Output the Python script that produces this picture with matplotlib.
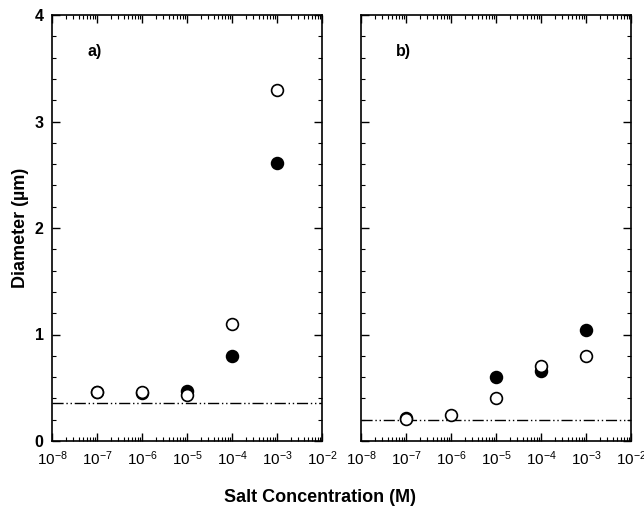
import numpy as np
import matplotlib.pyplot as plt
from matplotlib.ticker import LogLocator, MultipleLocator, NullFormatter

plt.rcParams['font.family'] = ['Liberation Sans', 'DejaVu Sans']
plt.rcParams['mathtext.fontset'] = 'custom'
plt.rcParams['mathtext.rm'] = 'Liberation Sans'
plt.rcParams['mathtext.default'] = 'regular'

# salt concentrations (M)
conc = [1e-7, 1e-6, 1e-5, 1e-4, 1e-3]

# panel a
a_open = [0.46, 0.46, 0.43, 1.10, 3.30]
a_filled = [0.46, 0.45, 0.47, 0.80, 2.61]
a_base = 0.36

# panel b
b_conc_filled = [1e-7, 1e-5, 1e-4, 1e-3]
b_filled = [0.22, 0.60, 0.66, 1.04]
b_open = [0.21, 0.24, 0.40, 0.70, 0.80]
b_base = 0.20

xtick_vals = [1e-8, 1e-7, 1e-6, 1e-5, 1e-4, 1e-3, 1e-2]
xtick_labels = ['$10^{-8}$', '$10^{-7}$', '$10^{-6}$', '$10^{-5}$',
                '$10^{-4}$', '$10^{-3}$', '$10^{-2}$']

fig = plt.figure(figsize=(6.44, 5.09), dpi=100)
ax1 = fig.add_axes([52/644, 1 - 441/509, 270/644, 426/509])
ax2 = fig.add_axes([361/644, 1 - 441/509, 270/644, 426/509])

panels = [
    (ax1, conc, a_filled, conc, a_open, a_base, 'a)'),
    (ax2, b_conc_filled, b_filled, conc, b_open, b_base, 'b)'),
]

for ax, xf, yf, xo, yo, base, lab in panels:
    ax.set_xscale('log')
    ax.set_xlim(1e-8, 1e-2)
    ax.set_ylim(0, 4)
    ax.axhline(base, color='black', lw=1.0, dashes=[8, 2, 1, 2, 1, 2])
    ax.plot(xf, yf, 'o', ms=8.5, mfc='black', mec='black', mew=1.2)
    ax.plot(xo, yo, 'o', ms=8.5, mfc='white', mec='black', mew=1.2)
    ax.text(0.13, 0.915, lab, transform=ax.transAxes, fontsize=11.5,
            fontweight='bold', va='center')
    ax.set_xticks(xtick_vals)
    ax.set_xticklabels(xtick_labels, fontsize=11)
    ax.xaxis.set_minor_locator(LogLocator(base=10, subs=np.arange(2, 10), numticks=20))
    ax.xaxis.set_minor_formatter(NullFormatter())
    ax.yaxis.set_major_locator(MultipleLocator(1))
    ax.yaxis.set_minor_locator(MultipleLocator(0.2))
    ax.tick_params(which='both', direction='in', top=True, right=True, pad=6)
    ax.tick_params(which='major', length=6, width=1)
    ax.tick_params(which='minor', length=3, width=0.8)
    for s in ax.spines.values():
        s.set_linewidth(1.2)

ax1.set_yticks([0, 1, 2, 3, 4])
ax1.set_yticklabels(['0', '1', '2', '3', '4'], fontsize=11.5, fontweight='bold')
ax2.set_yticklabels([])
ax1.set_ylabel('Diameter (µm)', fontsize=13, fontweight='bold', labelpad=4)
fig.text(320/644, 1 - 497/509, 'Salt Concentration (M)', ha='center',
         va='center', fontsize=13, fontweight='bold')

fig.savefig('out.png', dpi=100)
